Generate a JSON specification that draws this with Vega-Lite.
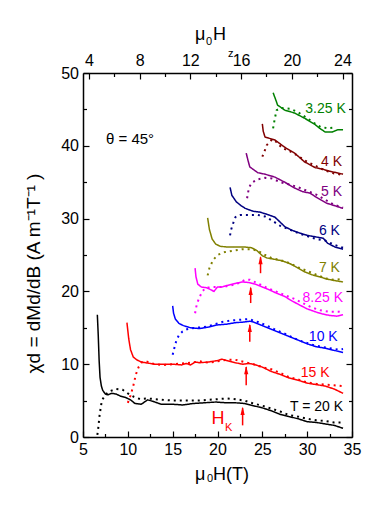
{
  "$schema": "https://vega.github.io/schema/vega-lite/v6.json",
  "width": 269,
  "height": 364,
  "autosize": {"type": "none"},
  "padding": {"left": 83, "top": 73, "right": 30, "bottom": 71},
  "background": "white",
  "config": {
    "view": {"stroke": null},
    "font": "Liberation Sans",
    "axis": {
      "grid": false,
      "labelFlush": false,
      "domainColor": "black",
      "domainWidth": 1.5,
      "tickColor": "black",
      "tickWidth": 1.2,
      "labelColor": "black",
      "labelFont": "Liberation Sans",
      "labelFontSize": 16,
      "titleFont": "Liberation Sans",
      "titleFontSize": 17,
      "titleFontWeight": "normal",
      "titleColor": "black"
    }
  },
  "datasets": {
    "curves": [
      {"s":"20K","k":"solid","x":6.6,"y":16.8},{"s":"20K","k":"solid","x":6.7,"y":14},{"s":"20K","k":"solid","x":6.8,"y":10.5},{"s":"20K","k":"solid","x":6.9,"y":8.2},{"s":"20K","k":"solid","x":7.05,"y":7.0},{"s":"20K","k":"solid","x":7.2,"y":6.4},{"s":"20K","k":"solid","x":7.5,"y":5.9},{"s":"20K","k":"solid","x":7.8,"y":5.8},{"s":"20K","k":"solid","x":8.2,"y":6.0},{"s":"20K","k":"solid","x":8.7,"y":5.9},{"s":"20K","k":"solid","x":9.2,"y":5.6},{"s":"20K","k":"solid","x":9.8,"y":5.4},{"s":"20K","k":"solid","x":10.3,"y":5.1},{"s":"20K","k":"solid","x":10.8,"y":4.6},{"s":"20K","k":"solid","x":11.5,"y":4.5},{"s":"20K","k":"solid","x":12.2,"y":5.1},{"s":"20K","k":"solid","x":12.8,"y":4.9},{"s":"20K","k":"solid","x":13.7,"y":4.5},{"s":"20K","k":"solid","x":15,"y":4.5},{"s":"20K","k":"solid","x":16.1,"y":4.4},{"s":"20K","k":"solid","x":17.3,"y":4.6},{"s":"20K","k":"solid","x":18.5,"y":4.7},{"s":"20K","k":"solid","x":19.8,"y":4.8},{"s":"20K","k":"solid","x":21,"y":4.7},{"s":"20K","k":"solid","x":22,"y":4.7},{"s":"20K","k":"solid","x":23,"y":4.6},{"s":"20K","k":"solid","x":24,"y":4.3},{"s":"20K","k":"solid","x":25,"y":4.0},{"s":"20K","k":"solid","x":26,"y":3.6},{"s":"20K","k":"solid","x":27,"y":3.1},{"s":"20K","k":"solid","x":28,"y":2.8},{"s":"20K","k":"solid","x":29,"y":2.5},{"s":"20K","k":"solid","x":30,"y":2.1},{"s":"20K","k":"solid","x":31,"y":2.0},{"s":"20K","k":"solid","x":32,"y":1.8},{"s":"20K","k":"solid","x":33,"y":1.6},{"s":"20K","k":"solid","x":34,"y":1.2},
      {"s":"20K","k":"dotted","x":6.6,"y":0.3},{"s":"20K","k":"dotted","x":6.7,"y":1.2},{"s":"20K","k":"dotted","x":6.85,"y":3.0},{"s":"20K","k":"dotted","x":7.1,"y":5.0},{"s":"20K","k":"dotted","x":7.5,"y":5.8},{"s":"20K","k":"dotted","x":8.0,"y":6.3},{"s":"20K","k":"dotted","x":8.7,"y":6.6},{"s":"20K","k":"dotted","x":9.4,"y":6.5},{"s":"20K","k":"dotted","x":10.0,"y":6.0},{"s":"20K","k":"dotted","x":10.7,"y":5.5},{"s":"20K","k":"dotted","x":11.4,"y":5.2},{"s":"20K","k":"dotted","x":12.2,"y":5.3},{"s":"20K","k":"dotted","x":13,"y":5.2},{"s":"20K","k":"dotted","x":14,"y":5.1},{"s":"20K","k":"dotted","x":15,"y":5.0},{"s":"20K","k":"dotted","x":16,"y":5.0},{"s":"20K","k":"dotted","x":17,"y":5.0},{"s":"20K","k":"dotted","x":18,"y":5.0},{"s":"20K","k":"dotted","x":19,"y":5.1},{"s":"20K","k":"dotted","x":20,"y":5.2},{"s":"20K","k":"dotted","x":21,"y":5.3},{"s":"20K","k":"dotted","x":22,"y":5.2},{"s":"20K","k":"dotted","x":23,"y":5.0},{"s":"20K","k":"dotted","x":24,"y":4.6},{"s":"20K","k":"dotted","x":25,"y":4.3},{"s":"20K","k":"dotted","x":26,"y":3.9},{"s":"20K","k":"dotted","x":27,"y":3.5},{"s":"20K","k":"dotted","x":28,"y":3.0},{"s":"20K","k":"dotted","x":29,"y":2.8},{"s":"20K","k":"dotted","x":30,"y":2.5},{"s":"20K","k":"dotted","x":31,"y":2.3},{"s":"20K","k":"dotted","x":32,"y":2.2},{"s":"20K","k":"dotted","x":33,"y":2.0},{"s":"20K","k":"dotted","x":34,"y":2.0},
      {"s":"15K","k":"solid","x":9.9,"y":15.7},{"s":"15K","k":"solid","x":10.1,"y":13.5},{"s":"15K","k":"solid","x":10.3,"y":12.0},{"s":"15K","k":"solid","x":10.6,"y":11.0},{"s":"15K","k":"solid","x":11.0,"y":10.6},{"s":"15K","k":"solid","x":11.5,"y":10.3},{"s":"15K","k":"solid","x":12,"y":10.2},{"s":"15K","k":"solid","x":13,"y":10.0},{"s":"15K","k":"solid","x":14,"y":10.0},{"s":"15K","k":"solid","x":15,"y":10.0},{"s":"15K","k":"solid","x":16,"y":9.9},{"s":"15K","k":"solid","x":16.5,"y":10.1},{"s":"15K","k":"solid","x":17,"y":9.9},{"s":"15K","k":"solid","x":17.5,"y":10.3},{"s":"15K","k":"solid","x":18,"y":10.2},{"s":"15K","k":"solid","x":19,"y":10.3},{"s":"15K","k":"solid","x":20,"y":10.5},{"s":"15K","k":"solid","x":20.5,"y":10.7},{"s":"15K","k":"solid","x":21,"y":10.5},{"s":"15K","k":"solid","x":22,"y":10.2},{"s":"15K","k":"solid","x":22.8,"y":10.0},{"s":"15K","k":"solid","x":23.5,"y":10.1},{"s":"15K","k":"solid","x":24,"y":10.0},{"s":"15K","k":"solid","x":25,"y":9.6},{"s":"15K","k":"solid","x":26,"y":9.0},{"s":"15K","k":"solid","x":27,"y":8.6},{"s":"15K","k":"solid","x":28,"y":8.1},{"s":"15K","k":"solid","x":29,"y":7.8},{"s":"15K","k":"solid","x":30,"y":7.4},{"s":"15K","k":"solid","x":31,"y":7.2},{"s":"15K","k":"solid","x":32,"y":7.0},{"s":"15K","k":"solid","x":33,"y":6.6},{"s":"15K","k":"solid","x":34,"y":6.0},
      {"s":"15K","k":"dotted","x":10.0,"y":4.7},{"s":"15K","k":"dotted","x":10.3,"y":5.7},{"s":"15K","k":"dotted","x":10.6,"y":7.0},{"s":"15K","k":"dotted","x":10.9,"y":8.6},{"s":"15K","k":"dotted","x":11.2,"y":9.6},{"s":"15K","k":"dotted","x":11.6,"y":10.3},{"s":"15K","k":"dotted","x":12,"y":10.4},{"s":"15K","k":"dotted","x":13,"y":10.0},{"s":"15K","k":"dotted","x":14,"y":9.9},{"s":"15K","k":"dotted","x":15,"y":10.0},{"s":"15K","k":"dotted","x":16,"y":10.1},{"s":"15K","k":"dotted","x":17,"y":10.2},{"s":"15K","k":"dotted","x":18,"y":10.4},{"s":"15K","k":"dotted","x":19,"y":10.2},{"s":"15K","k":"dotted","x":20,"y":10.4},{"s":"15K","k":"dotted","x":21,"y":10.6},{"s":"15K","k":"dotted","x":22,"y":10.6},{"s":"15K","k":"dotted","x":23,"y":10.3},{"s":"15K","k":"dotted","x":24,"y":10.0},{"s":"15K","k":"dotted","x":25,"y":9.6},{"s":"15K","k":"dotted","x":26,"y":9.3},{"s":"15K","k":"dotted","x":27,"y":8.8},{"s":"15K","k":"dotted","x":28,"y":8.2},{"s":"15K","k":"dotted","x":29,"y":7.9},{"s":"15K","k":"dotted","x":30,"y":7.5},{"s":"15K","k":"dotted","x":31,"y":7.3},{"s":"15K","k":"dotted","x":32,"y":7.2},{"s":"15K","k":"dotted","x":33,"y":7.1},{"s":"15K","k":"dotted","x":34,"y":7.0},
      {"s":"10K","k":"solid","x":15.0,"y":18.0},{"s":"10K","k":"solid","x":15.1,"y":17.0},{"s":"10K","k":"solid","x":15.3,"y":16.2},{"s":"10K","k":"solid","x":15.7,"y":15.6},{"s":"10K","k":"solid","x":16.2,"y":15.3},{"s":"10K","k":"solid","x":17,"y":15.0},{"s":"10K","k":"solid","x":18,"y":14.9},{"s":"10K","k":"solid","x":19,"y":15.1},{"s":"10K","k":"solid","x":20,"y":15.4},{"s":"10K","k":"solid","x":21,"y":15.5},{"s":"10K","k":"solid","x":22,"y":15.7},{"s":"10K","k":"solid","x":23,"y":15.8},{"s":"10K","k":"solid","x":23.6,"y":15.9},{"s":"10K","k":"solid","x":24,"y":15.8},{"s":"10K","k":"solid","x":25,"y":15.3},{"s":"10K","k":"solid","x":26,"y":14.8},{"s":"10K","k":"solid","x":27,"y":14.3},{"s":"10K","k":"solid","x":28,"y":13.8},{"s":"10K","k":"solid","x":29,"y":13.3},{"s":"10K","k":"solid","x":30,"y":12.8},{"s":"10K","k":"solid","x":31,"y":12.4},{"s":"10K","k":"solid","x":32,"y":12.2},{"s":"10K","k":"solid","x":33,"y":11.9},{"s":"10K","k":"solid","x":34,"y":11.6},
      {"s":"10K","k":"dotted","x":15.0,"y":11.3},{"s":"10K","k":"dotted","x":15.2,"y":12.3},{"s":"10K","k":"dotted","x":15.4,"y":13.2},{"s":"10K","k":"dotted","x":15.7,"y":14.0},{"s":"10K","k":"dotted","x":16.1,"y":14.5},{"s":"10K","k":"dotted","x":16.6,"y":14.8},{"s":"10K","k":"dotted","x":17.5,"y":15.0},{"s":"10K","k":"dotted","x":18.5,"y":15.1},{"s":"10K","k":"dotted","x":19.5,"y":15.4},{"s":"10K","k":"dotted","x":20.5,"y":15.8},{"s":"10K","k":"dotted","x":21.5,"y":16.0},{"s":"10K","k":"dotted","x":22.5,"y":16.1},{"s":"10K","k":"dotted","x":23.5,"y":16.2},{"s":"10K","k":"dotted","x":24.5,"y":15.8},{"s":"10K","k":"dotted","x":25.5,"y":15.3},{"s":"10K","k":"dotted","x":26.5,"y":14.7},{"s":"10K","k":"dotted","x":27.5,"y":14.2},{"s":"10K","k":"dotted","x":28.5,"y":13.6},{"s":"10K","k":"dotted","x":29.5,"y":13.1},{"s":"10K","k":"dotted","x":30.5,"y":12.7},{"s":"10K","k":"dotted","x":31.5,"y":12.4},{"s":"10K","k":"dotted","x":32.5,"y":12.2},{"s":"10K","k":"dotted","x":33.5,"y":12.0},{"s":"10K","k":"dotted","x":34,"y":12.1},
      {"s":"8.25K","k":"solid","x":17.5,"y":23.2},{"s":"8.25K","k":"solid","x":17.6,"y":22.0},{"s":"8.25K","k":"solid","x":17.8,"y":21.0},{"s":"8.25K","k":"solid","x":18.2,"y":20.6},{"s":"8.25K","k":"solid","x":18.8,"y":20.5},{"s":"8.25K","k":"solid","x":19.3,"y":20.2},{"s":"8.25K","k":"solid","x":19.6,"y":20.0},{"s":"8.25K","k":"solid","x":20,"y":20.6},{"s":"8.25K","k":"solid","x":20.5,"y":20.6},{"s":"8.25K","k":"solid","x":21,"y":20.8},{"s":"8.25K","k":"solid","x":22,"y":21.1},{"s":"8.25K","k":"solid","x":22.8,"y":21.3},{"s":"8.25K","k":"solid","x":23.6,"y":21.2},{"s":"8.25K","k":"solid","x":24.2,"y":21.0},{"s":"8.25K","k":"solid","x":25,"y":20.6},{"s":"8.25K","k":"solid","x":25.8,"y":20.2},{"s":"8.25K","k":"solid","x":26.5,"y":19.8},{"s":"8.25K","k":"solid","x":27.5,"y":19.3},{"s":"8.25K","k":"solid","x":28.3,"y":18.7},{"s":"8.25K","k":"solid","x":29.2,"y":18.1},{"s":"8.25K","k":"solid","x":30,"y":17.6},{"s":"8.25K","k":"solid","x":30.9,"y":17.2},{"s":"8.25K","k":"solid","x":31.7,"y":16.9},{"s":"8.25K","k":"solid","x":32.5,"y":16.7},{"s":"8.25K","k":"solid","x":33.3,"y":16.6},{"s":"8.25K","k":"solid","x":34,"y":16.8},
      {"s":"8.25K","k":"dotted","x":17.5,"y":17.0},{"s":"8.25K","k":"dotted","x":17.7,"y":18.3},{"s":"8.25K","k":"dotted","x":18,"y":19.2},{"s":"8.25K","k":"dotted","x":18.3,"y":20.0},{"s":"8.25K","k":"dotted","x":18.7,"y":20.5},{"s":"8.25K","k":"dotted","x":19.5,"y":20.6},{"s":"8.25K","k":"dotted","x":20.5,"y":20.6},{"s":"8.25K","k":"dotted","x":21.5,"y":20.8},{"s":"8.25K","k":"dotted","x":22.5,"y":21.2},{"s":"8.25K","k":"dotted","x":23.1,"y":21.6},{"s":"8.25K","k":"dotted","x":23.6,"y":21.6},{"s":"8.25K","k":"dotted","x":24.5,"y":21.1},{"s":"8.25K","k":"dotted","x":25.5,"y":20.5},{"s":"8.25K","k":"dotted","x":26.5,"y":20.0},{"s":"8.25K","k":"dotted","x":27.5,"y":19.5},{"s":"8.25K","k":"dotted","x":28.5,"y":19.0},{"s":"8.25K","k":"dotted","x":29.5,"y":18.4},{"s":"8.25K","k":"dotted","x":30.5,"y":17.8},{"s":"8.25K","k":"dotted","x":31.5,"y":17.4},{"s":"8.25K","k":"dotted","x":32.5,"y":17.2},{"s":"8.25K","k":"dotted","x":33.5,"y":17.2},{"s":"8.25K","k":"dotted","x":34,"y":17.4},
      {"s":"7K","k":"solid","x":18.9,"y":30.1},{"s":"7K","k":"solid","x":19.1,"y":28.5},{"s":"7K","k":"solid","x":19.4,"y":27.2},{"s":"7K","k":"solid","x":19.8,"y":26.5},{"s":"7K","k":"solid","x":20.3,"y":26.2},{"s":"7K","k":"solid","x":21,"y":26.1},{"s":"7K","k":"solid","x":22,"y":26.1},{"s":"7K","k":"solid","x":23,"y":26.1},{"s":"7K","k":"solid","x":23.8,"y":26.0},{"s":"7K","k":"solid","x":24.4,"y":25.6},{"s":"7K","k":"solid","x":25,"y":24.9},{"s":"7K","k":"solid","x":25.5,"y":24.6},{"s":"7K","k":"solid","x":26.4,"y":24.4},{"s":"7K","k":"solid","x":27.2,"y":24.2},{"s":"7K","k":"solid","x":28.1,"y":23.8},{"s":"7K","k":"solid","x":29,"y":23.2},{"s":"7K","k":"solid","x":29.7,"y":22.7},{"s":"7K","k":"solid","x":30.5,"y":22.3},{"s":"7K","k":"solid","x":31.4,"y":22.0},{"s":"7K","k":"solid","x":32.2,"y":21.7},{"s":"7K","k":"solid","x":33,"y":21.5},{"s":"7K","k":"solid","x":34,"y":21.3},
      {"s":"7K","k":"dotted","x":18.9,"y":22.2},{"s":"7K","k":"dotted","x":19.1,"y":23.2},{"s":"7K","k":"dotted","x":19.5,"y":24.3},{"s":"7K","k":"dotted","x":20,"y":25.0},{"s":"7K","k":"dotted","x":20.8,"y":25.4},{"s":"7K","k":"dotted","x":21.8,"y":25.6},{"s":"7K","k":"dotted","x":22.8,"y":25.8},{"s":"7K","k":"dotted","x":23.6,"y":25.8},{"s":"7K","k":"dotted","x":24.5,"y":25.6},{"s":"7K","k":"dotted","x":25.3,"y":25.0},{"s":"7K","k":"dotted","x":26,"y":24.6},{"s":"7K","k":"dotted","x":27,"y":24.3},{"s":"7K","k":"dotted","x":28,"y":23.9},{"s":"7K","k":"dotted","x":29,"y":23.3},{"s":"7K","k":"dotted","x":30,"y":22.8},{"s":"7K","k":"dotted","x":31,"y":22.3},{"s":"7K","k":"dotted","x":32,"y":21.8},{"s":"7K","k":"dotted","x":33,"y":21.6},{"s":"7K","k":"dotted","x":34,"y":21.7},
      {"s":"6K","k":"solid","x":21.4,"y":34.3},{"s":"6K","k":"solid","x":21.6,"y":33.2},{"s":"6K","k":"solid","x":22.1,"y":32.3},{"s":"6K","k":"solid","x":22.6,"y":31.8},{"s":"6K","k":"solid","x":23.1,"y":31.4},{"s":"6K","k":"solid","x":24,"y":31.0},{"s":"6K","k":"solid","x":24.7,"y":30.9},{"s":"6K","k":"solid","x":25.5,"y":30.6},{"s":"6K","k":"solid","x":26.4,"y":30.2},{"s":"6K","k":"solid","x":27,"y":29.5},{"s":"6K","k":"solid","x":27.5,"y":28.9},{"s":"6K","k":"solid","x":28.3,"y":28.4},{"s":"6K","k":"solid","x":29.2,"y":28.0},{"s":"6K","k":"solid","x":30,"y":27.7},{"s":"6K","k":"solid","x":30.9,"y":27.5},{"s":"6K","k":"solid","x":31.8,"y":27.3},{"s":"6K","k":"solid","x":32.3,"y":26.6},{"s":"6K","k":"solid","x":33.1,"y":26.1},{"s":"6K","k":"solid","x":34,"y":25.8},
      {"s":"6K","k":"dotted","x":21.4,"y":27.7},{"s":"6K","k":"dotted","x":21.5,"y":28.4},{"s":"6K","k":"dotted","x":21.7,"y":29.2},{"s":"6K","k":"dotted","x":22,"y":30.2},{"s":"6K","k":"dotted","x":22.5,"y":30.5},{"s":"6K","k":"dotted","x":23.5,"y":30.5},{"s":"6K","k":"dotted","x":24.5,"y":30.5},{"s":"6K","k":"dotted","x":25.3,"y":30.3},{"s":"6K","k":"dotted","x":26,"y":29.8},{"s":"6K","k":"dotted","x":27,"y":29.0},{"s":"6K","k":"dotted","x":28,"y":28.5},{"s":"6K","k":"dotted","x":29,"y":28.0},{"s":"6K","k":"dotted","x":30,"y":27.6},{"s":"6K","k":"dotted","x":31,"y":27.2},{"s":"6K","k":"dotted","x":32,"y":27.0},{"s":"6K","k":"dotted","x":33,"y":26.4},{"s":"6K","k":"dotted","x":34,"y":26.0},
      {"s":"5K","k":"solid","x":23.2,"y":39.0},{"s":"5K","k":"solid","x":23.4,"y":38.0},{"s":"5K","k":"solid","x":23.6,"y":37.1},{"s":"5K","k":"solid","x":24.5,"y":36.3},{"s":"5K","k":"solid","x":25.3,"y":36.1},{"s":"5K","k":"solid","x":26.4,"y":35.7},{"s":"5K","k":"solid","x":27.5,"y":35.0},{"s":"5K","k":"solid","x":28.6,"y":34.2},{"s":"5K","k":"solid","x":29.5,"y":33.7},{"s":"5K","k":"solid","x":30.3,"y":33.5},{"s":"5K","k":"solid","x":31.2,"y":32.8},{"s":"5K","k":"solid","x":32.2,"y":32.1},{"s":"5K","k":"solid","x":33,"y":31.8},{"s":"5K","k":"solid","x":34,"y":31.4},
      {"s":"5K","k":"dotted","x":23.3,"y":32.8},{"s":"5K","k":"dotted","x":23.5,"y":34.2},{"s":"5K","k":"dotted","x":23.8,"y":34.9},{"s":"5K","k":"dotted","x":24.5,"y":35.4},{"s":"5K","k":"dotted","x":25.3,"y":35.6},{"s":"5K","k":"dotted","x":26.1,"y":35.5},{"s":"5K","k":"dotted","x":27,"y":35.0},{"s":"5K","k":"dotted","x":28,"y":34.7},{"s":"5K","k":"dotted","x":29,"y":34.3},{"s":"5K","k":"dotted","x":30,"y":33.8},{"s":"5K","k":"dotted","x":31,"y":33.3},{"s":"5K","k":"dotted","x":32,"y":32.6},{"s":"5K","k":"dotted","x":33,"y":31.9},{"s":"5K","k":"dotted","x":34,"y":31.5},
      {"s":"4K","k":"solid","x":25.0,"y":43.0},{"s":"4K","k":"solid","x":25.1,"y":42.0},{"s":"4K","k":"solid","x":25.3,"y":41.2},{"s":"4K","k":"solid","x":26.4,"y":40.8},{"s":"4K","k":"solid","x":27.5,"y":39.8},{"s":"4K","k":"solid","x":28.6,"y":39.0},{"s":"4K","k":"solid","x":29.7,"y":37.8},{"s":"4K","k":"solid","x":30.9,"y":37.0},{"s":"4K","k":"solid","x":31.7,"y":36.8},{"s":"4K","k":"solid","x":32.5,"y":36.5},{"s":"4K","k":"solid","x":33.3,"y":36.3},{"s":"4K","k":"solid","x":34,"y":36.1},
      {"s":"4K","k":"dotted","x":25.0,"y":38.5},{"s":"4K","k":"dotted","x":25.2,"y":39.1},{"s":"4K","k":"dotted","x":25.5,"y":40.1},{"s":"4K","k":"dotted","x":26.1,"y":40.9},{"s":"4K","k":"dotted","x":26.6,"y":40.5},{"s":"4K","k":"dotted","x":27.2,"y":39.7},{"s":"4K","k":"dotted","x":28,"y":39.3},{"s":"4K","k":"dotted","x":29,"y":38.6},{"s":"4K","k":"dotted","x":30,"y":37.8},{"s":"4K","k":"dotted","x":31,"y":37.2},{"s":"4K","k":"dotted","x":32,"y":36.6},{"s":"4K","k":"dotted","x":33,"y":36.2},{"s":"4K","k":"dotted","x":34,"y":36.0},
      {"s":"3.25K","k":"solid","x":26.2,"y":47.3},{"s":"3.25K","k":"solid","x":26.5,"y":46.3},{"s":"3.25K","k":"solid","x":26.7,"y":45.6},{"s":"3.25K","k":"solid","x":27.5,"y":44.9},{"s":"3.25K","k":"solid","x":28.6,"y":44.5},{"s":"3.25K","k":"solid","x":29.7,"y":43.8},{"s":"3.25K","k":"solid","x":30.9,"y":42.9},{"s":"3.25K","k":"solid","x":31.4,"y":42.4},{"s":"3.25K","k":"solid","x":32,"y":41.9},{"s":"3.25K","k":"solid","x":32.8,"y":41.9},{"s":"3.25K","k":"solid","x":33.4,"y":42.2},{"s":"3.25K","k":"solid","x":34,"y":42.2},
      {"s":"3.25K","k":"dotted","x":26.2,"y":42.4},{"s":"3.25K","k":"dotted","x":26.4,"y":43.8},{"s":"3.25K","k":"dotted","x":26.6,"y":44.9},{"s":"3.25K","k":"dotted","x":27.1,"y":45.2},{"s":"3.25K","k":"dotted","x":28.1,"y":45.1},{"s":"3.25K","k":"dotted","x":29,"y":44.6},{"s":"3.25K","k":"dotted","x":30,"y":43.8},{"s":"3.25K","k":"dotted","x":30.8,"y":43.1},{"s":"3.25K","k":"dotted","x":31.5,"y":42.6},{"s":"3.25K","k":"dotted","x":32.3,"y":42.4},{"s":"3.25K","k":"dotted","x":33,"y":42.5}
    ],
    "labels": [
      {"s":"3.25K","t":"3.25 K","x":34.3,"y":45.0},
      {"s":"4K","t":"4 K","x":33.9,"y":37.8},
      {"s":"5K","t":"5 K","x":33.9,"y":33.6},
      {"s":"6K","t":"6 K","x":33.65,"y":28.3},
      {"s":"7K","t":"7 K","x":33.65,"y":23.2},
      {"s":"8.25K","t":"8.25 K","x":34.0,"y":19.1},
      {"s":"10K","t":"10 K","x":33.4,"y":13.7},
      {"s":"15K","t":"15 K","x":32.5,"y":8.8},
      {"s":"20K","t":"T = 20 K","x":34.0,"y":4.1}
    ],
    "arrows": [
      {"x":22.8,"y":1.6,"ytip":4.0},
      {"x":23.2,"y":7.1,"ytip":9.6},
      {"x":23.6,"y":13.1,"ytip":15.4},
      {"x":23.7,"y":18.4,"ytip":20.5},
      {"x":24.8,"y":22.5,"ytip":24.7}
    ],
    "titleBig": [
      {"t":"μ","x":17.49,"y":54.53},
      {"t":"H","x":19.49,"y":54.53},
      {"t":"μ","x":17.49,"y":-5.91},
      {"t":"H(T)","x":19.49,"y":-5.91}
    ],
    "titleSmall": [
      {"t":"0","x":18.71,"y":54.3},
      {"t":"z","x":21.17,"y":52.6},
      {"t":"0","x":18.82,"y":-5.77}
    ]
  },
  "layer": [
    {
      "encoding": {
        "x": {"field": "x", "type": "quantitative",
          "scale": {"domain": [5, 35], "nice": false, "zero": false},
          "axis": {
            "orient": "bottom",
            "values": [5,7.5,10,12.5,15,17.5,20,22.5,25,27.5,30,32.5,35],
            "labelExpr": "datum.value % 5 === 0 ? datum.label : ''",
            "tickSize": {"condition": {"test": "datum.value % 5 === 0", "value": -6}, "value": -3.5},
            "labelPadding": 10,
            "title": null
          }
        },
        "y": {"field": "y", "type": "quantitative",
          "scale": {"domain": [0, 50], "nice": false, "zero": false},
          "axis": {
            "orient": "left",
            "values": [0,5,10,15,20,25,30,35,40,45,50],
            "labelExpr": "datum.value % 10 === 0 ? datum.label : ''",
            "tickSize": {"condition": {"test": "datum.value % 10 === 0", "value": -6}, "value": -3.5},
            "labelPadding": 10.5,
            "title": "χd = dMd/dB (A m⁻¹T⁻¹ )",
            "titleFontSize": 19,
            "titleX": -50,
            "titleY": 200,
            "titleAngle": 270,
            "titleBaseline": "middle",
            "titleAlign": "center"
          }
        }
      },
      "layer": [
        {
          "data": {"name": "curves"},
          "mark": {"type": "line", "strokeCap": "butt", "strokeJoin": "round"},
          "encoding": {
            "color": {"field": "s", "type": "nominal", "legend": null,
              "scale": {"domain": ["20K","15K","10K","8.25K","7K","6K","5K","4K","3.25K"],
                "range": ["#000000","#ff0000","#0000ff","#ff00ff","#808000","#000080","#800080","#800000","#008000"]}},
            "strokeDash": {"field": "k", "type": "nominal", "legend": null,
              "scale": {"domain": ["solid","dotted"], "range": [[1,0],[2,4]]}},
            "strokeWidth": {"field": "k", "type": "nominal", "legend": null,
              "scale": {"domain": ["solid","dotted"], "range": [1.5, 2]}}
          }
        },
        {
          "data": {"name": "labels"},
          "mark": {"type": "text", "align": "right", "baseline": "middle", "fontSize": 14, "font": "Liberation Sans"},
          "encoding": {
            "text": {"field": "t"},
            "color": {"field": "s", "type": "nominal", "legend": null}
          }
        },
        {
          "data": {"name": "arrows"},
          "mark": {"type": "rule", "color": "#ff0000", "strokeWidth": 1.5},
          "encoding": {"y2": {"field": "ytip"}}
        },
        {
          "data": {"name": "arrows"},
          "mark": {"type": "point", "shape": "M0,-1L0.5,1L-0.5,1Z", "filled": true, "color": "#ff0000", "size": 70, "opacity": 1},
          "encoding": {"y": {"field": "ytip", "type": "quantitative"}, "yOffset": {"value": 3}}
        },
        {
          "data": {"values": [{"x": 20.05, "y": 2.5, "t": "H"}]},
          "mark": {"type": "text", "align": "center", "baseline": "middle", "fontSize": 18, "color": "#ff0000", "font": "Liberation Sans"},
          "encoding": {"text": {"field": "t"}}
        },
        {
          "data": {"values": [{"x": 21.25, "y": 1.2, "t": "K"}]},
          "mark": {"type": "text", "align": "center", "baseline": "middle", "fontSize": 11, "color": "#ff0000", "font": "Liberation Sans"},
          "encoding": {"text": {"field": "t"}}
        },
        {
          "data": {"values": [{"x": 7.56, "y": 41.0, "t": "θ = 45°"}]},
          "mark": {"type": "text", "align": "left", "baseline": "middle", "fontSize": 15, "color": "black", "font": "Liberation Sans"},
          "encoding": {"text": {"field": "t"}}
        },
        {
          "data": {"name": "titleBig"},
          "mark": {"type": "text", "align": "left", "baseline": "alphabetic", "fontSize": 18, "color": "black", "font": "Liberation Sans"},
          "encoding": {"text": {"field": "t"}}
        },
        {
          "data": {"name": "titleSmall"},
          "mark": {"type": "text", "align": "left", "baseline": "middle", "fontSize": 11, "color": "black", "font": "Liberation Sans"},
          "encoding": {"text": {"field": "t"}}
        }
      ]
    },
    {
      "data": {"values": [{"hz": 4, "yv": 0}, {"hz": 24, "yv": 50}]},
      "mark": {"type": "point", "opacity": 0},
      "encoding": {
        "x": {"field": "hz", "type": "quantitative",
          "scale": {"domain": [3.5355, 24.7487], "nice": false, "zero": false},
          "axis": {
            "orient": "top",
            "values": [4,6,8,10,12,14,16,18,20,22,24],
            "labelExpr": "datum.value % 4 === 0 ? datum.label : ''",
            "tickSize": {"condition": {"test": "datum.value % 4 === 0", "value": -6}, "value": -3.5},
            "labelPadding": 10.5,
            "title": null
          }
        },
        "y": {"field": "yv", "type": "quantitative",
          "scale": {"domain": [0, 50], "nice": false, "zero": false},
          "axis": {
            "orient": "right",
            "values": [0,5,10,15,20,25,30,35,40,45,50],
            "labels": false,
            "tickSize": {"condition": {"test": "datum.value % 10 === 0", "value": -6}, "value": -3.5},
            "title": null
          }
        }
      }
    }
  ],
  "resolve": {"scale": {"x": "independent"}, "axis": {"x": "independent", "y": "independent"}}
}
